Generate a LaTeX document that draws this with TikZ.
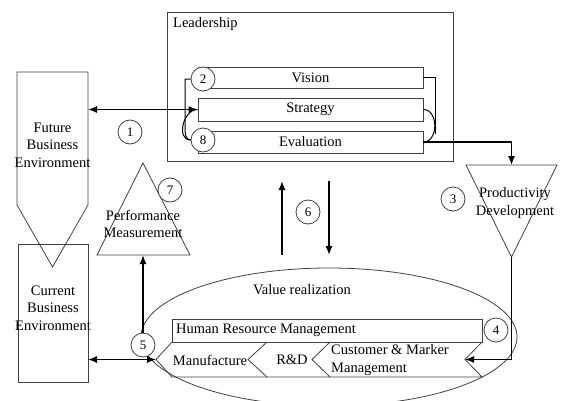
\documentclass[tikz,border=0pt]{standalone}
\usepackage{fontspec}
\setmainfont{Liberation Serif}
\usetikzlibrary{arrows.meta,shapes.geometric}

\tikzset{
  shape line/.style={draw=black!75, line width=0.8pt},
  block/.style={shape line, rectangle, inner sep=0pt, font=\fontsize{14.5}{17}\selectfont},
  num/.style={shape line, circle, fill=white, minimum size=24pt, inner sep=0pt, font=\fontsize{13}{15}\selectfont},
  txt/.style={align=center, inner sep=0pt, font=\fontsize{14.5}{17.5}\selectfont},
  link/.style={line width=1.3pt, >={Latex[length=9pt,width=7pt]}},
  loopline/.style={line width=1pt}
}

\begin{document}
\begin{tikzpicture}[x=1pt,y=-1pt]
        \useasboundingbox (0,0) rectangle (568,400);

        % leadership block
        \node[block, minimum width=286pt, minimum height=149pt] (lead) at (310,86.5) {};
        \node[txt, anchor=west] (leadlbl) at (173,24) {Leadership};
        \node[block, minimum width=225pt, minimum height=21pt] (vis)   at (310.5,77.5) {Vision};
        \node[block, minimum width=225pt, minimum height=23pt] (strat) at (310.5,109.5) {Strategy};
        \node[block, minimum width=225pt, minimum height=22pt] (eval)  at (310.5,142) {Evaluation};
        \node[num] (n2) at (203,79)  {2};
        \node[num] (n8) at (203,140) {8};

        \draw[loopline] (n2.west) -| (185,128) to[out=-90,in=180] (n8.west);
        \draw[loopline] (strat.west) to[out=180,in=180,looseness=1.2] (n8.west);
        \draw[loopline] (vis.east) -| (435,134);
        \draw[loopline] (strat.east) to[out=0,in=0,looseness=1.2] (eval.east);

        % future and current business environment
        \draw[shape line] (17,72) -- (88,72) -- (88,205) -- (52.5,267) -- (17,205) -- cycle;
        \node[txt] (fbe) at (52.5,145) {Future\\Business\\Environment};
        \coordinate (fbeR) at (88,109.5);
        \node[shape line, rectangle, minimum width=70pt, minimum height=138pt] (cbebox) at (53,313) {};
        \node[txt] (cbe) at (53,308) {Current\\Business\\Environment};
        \coordinate (cbeR) at (88,359.5);
        \node[num] (n1) at (130,132) {1};

        % performance measurement
        \draw[shape line] (143,163) -- (190,255) -- (97,255) -- cycle;
        \coordinate (pmbase) at (143,255);
        \node[txt] (pm) at (143,224) {Performance\\Measurement};
        \node[num] (n7) at (170,190) {7};

        % productivity development
        \draw[shape line] (466,165) -- (557,165) -- (511.5,257) -- cycle;
        \coordinate (pdtop)  at (511.5,165);
        \coordinate (pdapex) at (511.5,257);
        \node[txt] (pd) at (515,203) {Productivity\\Development};
        \node[num] (n3) at (453,199) {3};

        % value realization
        \node[shape line, ellipse, minimum width=376pt, minimum height=138pt, inner sep=0pt] (val) at (329,337) {};
        \node[txt] (vallbl) at (302,290) {Value realization};
        \node[shape line, rectangle, minimum width=310pt, minimum height=23pt] (hrm) at (327,330.5) {};
        \node[txt, anchor=west] (hrmlbl) at (176,330) {Human Resource Management};
        \coordinate (mtip)    at (156,359.5);
        \coordinate (cmnotch) at (465,359.5);
        \draw[shape line] (172,342) -- (mtip) -- (172,377) -- (482,377) -- (cmnotch) -- (482,342);
        \draw[shape line] (267,342) -- (248,359.5) -- (267,377);
        \draw[shape line] (330,342) -- (312,359.5) -- (330,377);
        \node[txt] (man) at (210,360) {Manufacture};
        \node[txt] (rd)  at (292,360) {R\&D};
        \node[txt, align=left, anchor=west] (cm) at (331,360) {Customer \& Marker\\Management};
        \node[num] (n4) at (496,330) {4};
        \node[num] (n5) at (143,345) {5};

        % number 6
        \coordinate (up0) at (282,255);
        \coordinate (up1) at (282,181);
        \coordinate (dn0) at (329,181);
        \coordinate (dn1) at (329,255);
        \node[num] (n6) at (308,212) {6};

        \path[link,->]
                  (fbeR)   edge [<->]     (strat.west)
                  (n5)     edge           (pmbase)
                  (cbeR)   edge [<->]     (mtip)
                  (up0)    edge           (up1)
                  (dn0)    edge           (dn1);
        \draw[link,->] (eval.east) -| (pdtop);
        \draw[link,->] (pdapex) |- (cmnotch);
\end{tikzpicture}
\end{document}
